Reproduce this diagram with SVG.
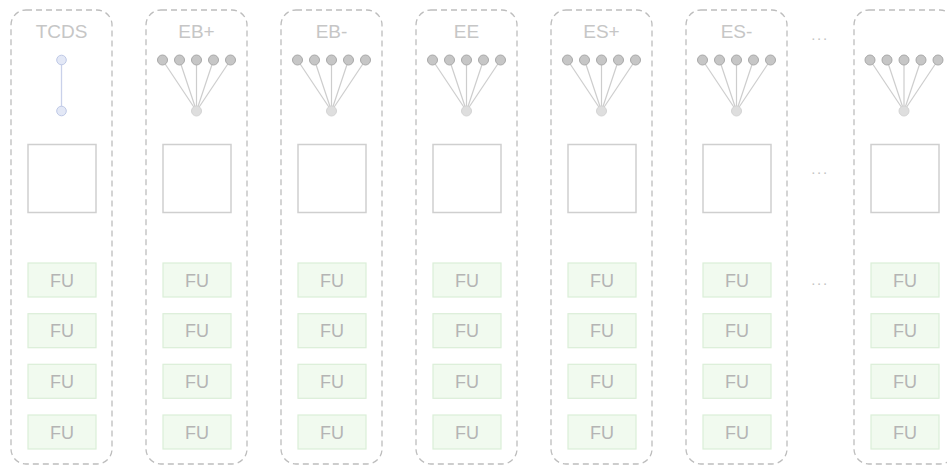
<svg xmlns="http://www.w3.org/2000/svg" width="947" height="467" viewBox="0 0 947 467">
<defs>
<style>
.col{fill:#fff;stroke:#bdbdbd;stroke-width:1.3;stroke-dasharray:6 4}
.title{font-family:"Liberation Sans",Arial,sans-serif;font-size:19px;fill:#c6c6c6;text-anchor:middle}
.sq{fill:#fff;stroke:#cfcfcf;stroke-width:1.5}
.fu{fill:#f1faef;stroke:#dbeed8;stroke-width:1.2}
.fut{font-family:"Liberation Sans",Arial,sans-serif;font-size:18px;fill:#b4b4b4;text-anchor:middle}
.dots{font-family:"Liberation Sans",Arial,sans-serif;font-size:15px;fill:#c4c4c4;text-anchor:middle;letter-spacing:1.6px}
.fan{stroke:#cdcdcd;stroke-width:1.2}
.top{fill:#c6c6c6;stroke:#a9a9a9;stroke-width:1}
.bot{fill:#dedede;stroke:#d4d4d4;stroke-width:1}
.tl{stroke:#c9d1ea;stroke-width:1.3}
.tc{fill:#e3e8f6;stroke:#bfc9e6;stroke-width:1}
</style>
<g id="fan">
<line class="fan" x1="-34" y1="60" x2="0" y2="111"/>
<line class="fan" x1="-17" y1="60" x2="0" y2="111"/>
<line class="fan" x1="0" y1="60" x2="0" y2="111"/>
<line class="fan" x1="17" y1="60" x2="0" y2="111"/>
<line class="fan" x1="34" y1="60" x2="0" y2="111"/>
<circle class="top" cx="-34" cy="60" r="5"/>
<circle class="top" cx="-17" cy="60" r="5"/>
<circle class="top" cx="0" cy="60" r="5"/>
<circle class="top" cx="17" cy="60" r="5"/>
<circle class="top" cx="34" cy="60" r="5"/>
<circle class="bot" cx="0" cy="111" r="5"/>
</g>
<g id="body">
<rect class="sq" x="-33.5" y="144.5" width="68" height="68"/>
<rect class="fu" x="-33.5" y="263" width="68" height="34"/>
<text class="fut" x="0.5" y="286.5">FU</text>
<rect class="fu" x="-33.5" y="313.7" width="68" height="34"/>
<text class="fut" x="0.5" y="337.2">FU</text>
<rect class="fu" x="-33.5" y="364.3" width="68" height="34"/>
<text class="fut" x="0.5" y="387.8">FU</text>
<rect class="fu" x="-33.5" y="415" width="68" height="34"/>
<text class="fut" x="0.5" y="438.5">FU</text>
</g>
</defs>
<rect width="947" height="467" fill="#fff"/>
<g id="col-tcds">
<rect class="col" x="11" y="10" width="101" height="454" rx="15"/>
<text class="title" x="61.5" y="38">TCDS</text>
<line class="tl" x1="61.5" y1="60" x2="61.5" y2="111"/>
<circle class="tc" cx="61.5" cy="60" r="4.8"/>
<circle class="tc" cx="61.5" cy="111" r="4.8"/>
<use href="#body" x="61.5"/>
</g>
<g id="col-ebp">
<rect class="col" x="146" y="10" width="101" height="454" rx="15"/>
<text class="title" x="196.5" y="38">EB+</text>
<use href="#fan" x="196.5"/>
<use href="#body" x="196.5"/>
</g>
<g id="col-ebm">
<rect class="col" x="281" y="10" width="101" height="454" rx="15"/>
<text class="title" x="331.5" y="38">EB-</text>
<use href="#fan" x="331.5"/>
<use href="#body" x="331.5"/>
</g>
<g id="col-ee">
<rect class="col" x="416" y="10" width="101" height="454" rx="15"/>
<text class="title" x="466.5" y="38">EE</text>
<use href="#fan" x="466.5"/>
<use href="#body" x="466.5"/>
</g>
<g id="col-esp">
<rect class="col" x="551" y="10" width="101" height="454" rx="15"/>
<text class="title" x="601.5" y="38">ES+</text>
<use href="#fan" x="601.5"/>
<use href="#body" x="601.5"/>
</g>
<g id="col-esm">
<rect class="col" x="686" y="10" width="101" height="454" rx="15"/>
<text class="title" x="736.5" y="38">ES-</text>
<use href="#fan" x="736.5"/>
<use href="#body" x="736.5"/>
</g>
<g id="ellipsis">
<text class="dots" x="820" y="40">...</text>
<text class="dots" x="820" y="174">...</text>
<text class="dots" x="820" y="285">...</text>
</g>
<g id="col-last">
<rect class="col" x="854" y="10" width="101" height="454" rx="15"/>
<use href="#fan" x="904"/>
<use href="#body" x="904.5"/>
</g>
<g id="connectors"></g>
</svg>
